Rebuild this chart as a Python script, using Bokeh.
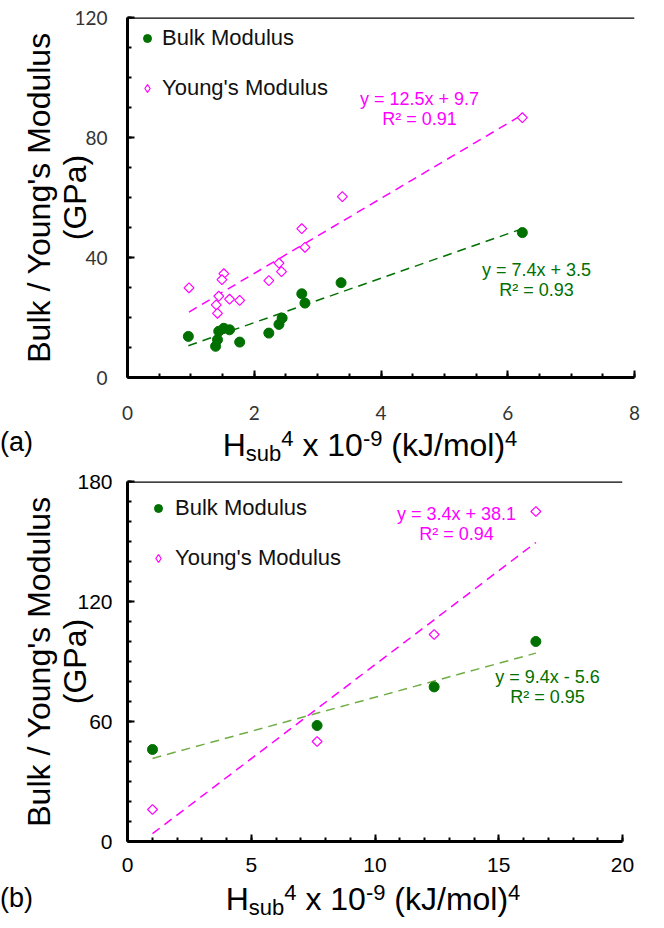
import numpy as np
from bokeh.plotting import figure
from bokeh.models import Range1d, FixedTicker, Label, Span, Legend, LegendItem, Title, Div
from bokeh.layouts import column
from bokeh.embed import file_html
from bokeh.resources import INLINE

# ---------------- data ----------------
# panel (a)
a_bulk_x = [0.96, 1.39, 1.42, 1.44, 1.52, 1.61, 1.77, 2.23, 2.39, 2.44, 2.75, 2.80, 3.37, 6.23]
a_bulk_y = [13.7, 10.4, 12.6, 15.4, 16.4, 15.9, 11.8, 14.8, 17.7, 19.8, 27.9, 24.8, 31.6, 48.3]
a_young_x = [0.97, 1.52, 1.49, 1.44, 1.40, 1.42, 1.61, 1.77, 2.23, 2.39, 2.43, 2.75, 2.80, 3.39, 6.23]
a_young_y = [29.9, 34.6, 32.6, 27.1, 24.2, 21.4, 26.1, 25.7, 32.3, 38.1, 35.3, 49.6, 43.4, 60.3, 86.6]
a_bulk_fit = (7.4, 3.5)
a_young_fit = (12.5, 9.7)
a_bulk_eq = ["y = 7.4x + 3.5", "R\u00b2 = 0.93"]
a_young_eq = ["y = 12.5x + 9.7", "R\u00b2 = 0.91"]
a_xticks = [0, 2, 4, 6, 8]
a_yticks = [0, 40, 80, 120]

# panel (b)
b_x = [1.01, 7.66, 12.39, 16.5]
b_bulk_y = [46.0, 58.0, 77.3, 100.0]
b_young_y = [16.0, 50.0, 103.5, 165.0]
b_bulk_fit = (3.4, 38.1)
b_young_fit = (9.4, -5.6)
b_pink_eq = ["y = 3.4x + 38.1", "R\u00b2 = 0.94"]
b_green_eq = ["y = 9.4x - 5.6", "R\u00b2 = 0.95"]
b_xticks = [0, 5, 10, 15, 20]
b_yticks = [0, 60, 120, 180]

series_names = ["Bulk Modulus", "Young's Modulus"]
y_title = ["Bulk / Young's Modulus", "(GPa)"]
panel_tags = ["(a)", "(b)"]

GREEN = "#007000"
PINK = "#FF00FF"
LIGHTGREEN = "#70AD47"
ARIAL = "Liberation Sans"
PAGE_W = 648


def make_fig(xr, yr, fw, fh, left, top, right, bottom, xticks, xminor, yticks, yminor,
             tick_font, tick_size, tick_color, xstand, ystand, ylab_stand, title_stand):
    p = figure(output_backend="svg", toolbar_location=None,
               x_range=Range1d(*xr), y_range=Range1d(*yr),
               frame_width=fw, frame_height=fh,
               min_border_left=left, min_border_top=top,
               min_border_right=right, min_border_bottom=bottom)
    p.outline_line_color = None
    p.grid.visible = False
    p.background_fill_color = "white"
    p.border_fill_color = "white"
    p.xaxis.ticker = FixedTicker(ticks=xticks, minor_ticks=xminor)
    p.yaxis.ticker = FixedTicker(ticks=yticks, minor_ticks=yminor)
    for ax, st in ((p.xaxis, xstand), (p.yaxis, ystand)):
        ax.axis_line_width = 3
        ax.axis_line_color = "black"
        ax.major_tick_in = 7
        ax.major_tick_out = 0
        ax.minor_tick_in = 4
        ax.minor_tick_out = 0
        ax.major_tick_line_width = 2
        ax.minor_tick_line_width = 2
        ax.major_tick_line_color = "black"
        ax.minor_tick_line_color = "black"
        ax.major_label_text_font = tick_font
        ax.major_label_text_font_size = tick_size
        ax.major_label_text_color = tick_color
        ax.major_label_standoff = st
    p.yaxis.axis_label = y_title[1]
    p.yaxis.axis_label_text_font = ARIAL
    p.yaxis.axis_label_text_font_size = "32px"
    p.yaxis.axis_label_text_font_style = "normal"
    p.yaxis.axis_label_text_color = "black"
    p.yaxis.axis_label_standoff = ylab_stand
    p.add_layout(Title(text=y_title[0], align="center", text_font=ARIAL, text_font_size="32px",
                       text_font_style="normal", text_color="black", standoff=title_stand), "left")
    p.add_layout(Span(location=yr[1], dimension="width", line_color="black", line_width=2.5))
    return p


def title_div(height, xc, title_top, tag, tag_top):
    sup = "font-size:22px;position:relative;top:-10px"
    sub = "font-size:22px;position:relative;top:5px"
    title = (f"H<span style='{sub}'>sub</span><span style='{sup}'>4</span> x 10"
             f"<span style='{sup}'>-9</span> (kJ/mol)<span style='{sup}'>4</span>")
    html = (f"<div style='position:relative;width:{PAGE_W}px;height:{height}px;"
            f"font-family:\"Liberation Sans\",Arial,sans-serif;color:#000;overflow:visible'>"
            f"<span style='position:absolute;left:0px;top:{tag_top}px;font-size:27px;"
            f"line-height:27px;white-space:nowrap'>{tag}</span>"
            f"<div style='position:absolute;left:{xc - 200}px;top:{title_top}px;width:400px;"
            f"text-align:center;font-size:32px;line-height:32px;white-space:nowrap'>{title}</div>"
            f"</div>")
    return Div(text=html, width=PAGE_W, height=height, margin=0)


def add_eq(p, x, y1, y2, lines, color):
    for yy, t in ((y1, lines[0]), (y2, lines[1])):
        p.add_layout(Label(x=x, y=yy, text=t, text_font=ARIAL, text_font_size="18px",
                           text_color=color, text_align="center", text_baseline="middle"))


def legend_for(p, r1, r_dummy, margin, gw, st, spacing):
    leg = Legend(items=[LegendItem(label=series_names[0], renderers=[r1]),
                        LegendItem(label=series_names[1], renderers=[r_dummy])],
                 location="top_left", margin=margin, padding=0, spacing=spacing,
                 glyph_width=gw, glyph_height=20, label_height=20, label_standoff=st,
                 label_text_font=ARIAL, label_text_font_size="22px", label_text_color="#111111",
                 background_fill_alpha=0, border_line_color=None)
    p.add_layout(leg)


# ---------------- panel (a) ----------------
def ax_(px): return (px - 128) / 63.375
def ay_(py): return (377 - py) / 3.0


pa = make_fig((0, 8), (0, 120), 507, 360, 120, 17, 21, 52,
              a_xticks, list(np.arange(0, 8.01, 0.5)), a_yticks, list(range(0, 121, 10)),
              "Lato", "19px", "#333333", 28, 20, -22, -4)

xa = np.array([min(a_bulk_x), max(a_bulk_x)])
pa.line(xa, a_bulk_fit[0] * xa + a_bulk_fit[1], line_color=GREEN, line_width=1.5, line_dash="9 6")
xa2 = np.array([min(a_young_x), max(a_young_x)])
pa.line(xa2, a_young_fit[0] * xa2 + a_young_fit[1], line_color=PINK, line_width=1.5, line_dash="9 6")
ra1 = pa.scatter(a_bulk_x, a_bulk_y, marker="circle", size=10, fill_color=GREEN, line_color=GREEN)
pa.scatter(a_young_x, a_young_y, marker="square", size=7, angle=np.pi / 4,
           fill_color="white", line_color=PINK, line_width=1.2)
ra_leg = pa.scatter(x=[np.nan], y=[np.nan], marker="diamond", size=11, fill_color="white",
                    line_color=PINK, line_width=1.2)
legend_for(pa, ra1, ra_leg, 8, 24, 3, 24)

add_eq(pa, ax_(420), ay_(98), ay_(118), a_young_eq, PINK)
add_eq(pa, ax_(537), ay_(269), ay_(289), a_bulk_eq, GREEN)

# title strip under (a): page y 429..464, baseline near 456
ta = title_div(35, 378 - 8, 0, panel_tags[0], 0)

# ---------------- panel (b) ----------------
def bx_(px): return (px - 135) / 24.75
def by_(py): return (841 - py) / 2.0


pb = make_fig((0, 20), (0, 180), 495, 360, 127, 17, 26, 42,
              b_xticks, list(range(0, 21)), b_yticks, list(range(0, 181, 10)),
              ARIAL, "21px", "black", 16, 15, -19, -4)

xb = np.array([min(b_x), max(b_x)])
pb.line(xb, b_bulk_fit[0] * xb + b_bulk_fit[1], line_color=LIGHTGREEN, line_width=1.5, line_dash="9 6")
pb.line(xb, b_young_fit[0] * xb + b_young_fit[1], line_color=PINK, line_width=1.5, line_dash="9 6")
rb1 = pb.scatter(b_x, b_bulk_y, marker="circle", size=10, fill_color=GREEN, line_color=GREEN)
pb.scatter(b_x, b_young_y, marker="square", size=7, angle=np.pi / 4,
           fill_color="white", line_color=PINK, line_width=1.2)
rb_leg = pb.scatter(x=[np.nan], y=[np.nan], marker="diamond", size=11, fill_color="white",
                    line_color=PINK, line_width=1.2)
legend_for(pb, rb1, rb_leg, 14, 34, 0, 24)

add_eq(pb, bx_(464), by_(513), by_(533), b_pink_eq, PINK)
add_eq(pb, bx_(555), by_(676), by_(696), b_green_eq, GREEN)

# title strip under (b): page y 883..920
tb = title_div(37, 381 - 8, 0, panel_tags[1], 2)

layout = column(pa, ta, pb, tb, spacing=0)
open("out.html", "w").write(file_html(layout, INLINE))
